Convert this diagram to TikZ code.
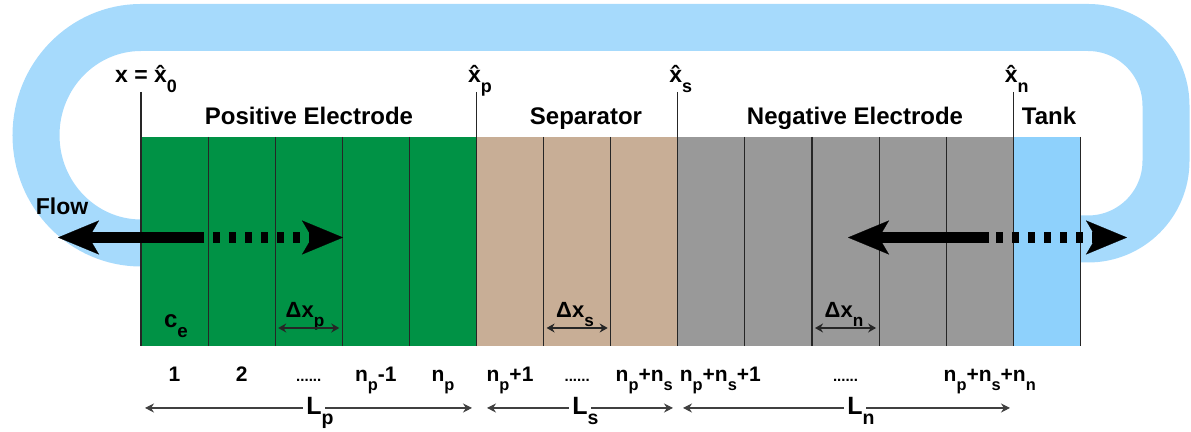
\documentclass[tikz,border=0pt]{standalone}
\usepackage{fontspec}
\setmainfont{Liberation Sans}
\usetikzlibrary{arrows.meta, positioning, calc}

\definecolor{posgreen}{RGB}{0,146,69}
\definecolor{septan}{RGB}{200,174,150}
\definecolor{neggray}{RGB}{153,153,153}
\definecolor{tankblue}{RGB}{142,209,252}
\definecolor{loopblue}{RGB}{166,218,252}

\newcommand{\xhat}{\^{x}}
\newcommand{\sub}[1]{\raisebox{-0.4em}{\scalebox{0.78}{#1}}}

\begin{document}
\begin{tikzpicture}[
      x=0.5pt, y=0.5pt,
      node distance=0pt,
      cell/.style={minimum width=33.55pt, minimum height=104.5pt, inner sep=0pt, outer sep=0pt},
      divider/.style={draw=black!85, line width=0.55pt},
      title/.style={font=\fontsize{12}{14}\selectfont\bfseries, anchor=base},
      bound/.style={font=\fontsize{11.5}{14}\selectfont\bfseries, anchor=base},
      idx/.style={font=\fontsize{10.5}{12}\selectfont\bfseries, anchor=base},
      dots/.style={font=\fontsize{7.5}{8}\selectfont\bfseries, anchor=base},
      delta/.style={font=\fontsize{11}{12}\selectfont\bfseries, anchor=base},
      len/.style={font=\fontsize{12.5}{14}\selectfont\bfseries, anchor=base, inner xsep=1.5pt},
      flow/.style={line width=5.5pt, -{Stealth[length=20.5pt, width=17pt, inset=5pt, line width=0.1pt]}},
      flowdash/.style={flow, dash pattern=on 3.5pt off 4.5pt},
      span/.style={draw=black!85, line width=0.75pt, {Stealth[length=4pt, width=4.5pt]}-{Stealth[length=4pt, width=4.5pt]}},
      dim/.style={draw=black!75, line width=0.55pt, -{Stealth[length=4.5pt, width=4.5pt]}}
  ]
    \useasboundingbox (0,0) rectangle (1191,432);

    % electrolyte loop
    \draw[loopblue, line width=23.5pt, rounded corners=39pt] (1070,193) -- (1166,193) -- (1166,404.5) -- (300,404.5)
      [sharp corners] -- (141,404.5) arc[start angle=90, end angle=270, x radius=105, y radius=107.75] -- (200,189);

    % cells
    \node[cell, fill=posgreen, anchor=south west] (p1) at (141,86) {};
    \node[cell, fill=posgreen, right=of p1] (p2) {};
    \node[cell, fill=posgreen, right=of p2] (p3) {};
    \node[cell, fill=posgreen, right=of p3] (p4) {};
    \node[cell, fill=posgreen, right=of p4] (p5) {};
    \node[cell, fill=septan, right=of p5] (s1) {};
    \node[cell, fill=septan, right=of s1] (s2) {};
    \node[cell, fill=septan, right=of s2] (s3) {};
    \node[cell, fill=neggray, right=of s3] (n1) {};
    \node[cell, fill=neggray, right=of n1] (n2) {};
    \node[cell, fill=neggray, right=of n2] (n3) {};
    \node[cell, fill=neggray, right=of n3] (n4) {};
    \node[cell, fill=neggray, right=of n4] (n5) {};
    \node[cell, fill=tankblue, right=of n5] (tank) {};

    \foreach \c in {p1,p2,p3,p4,s1,s2,n1,n2,n3,n4,tank}
      \draw[divider] (\c.north east) -- (\c.south east);

    \coordinate (hat0) at ($(p1.north west)+(0,45)$);
    \coordinate (hatp) at ($(p5.north east)+(0,45)$);
    \coordinate (hats) at ($(s3.north east)+(0,45)$);
    \coordinate (hatn) at ($(n5.north east)+(0,45)$);
    \draw[divider] (hat0) -- (p1.south west);
    \draw[divider] (hatp) -- (p5.south east);
    \draw[divider] (hats) -- (s3.south east);
    \draw[divider] (hatn) -- (n5.south east);

    \node[bound] (lbl0) at ($(hat0)+(0,9)$) {x = \xhat\rlap{\sub{0}}};
    \node[bound] (lblp) at ($(hatp)+(-2,9)$) {\xhat\rlap{\sub{p}}};
    \node[bound] (lbls) at ($(hats)+(-2,9)$) {\xhat\rlap{\sub{s}}};
    \node[bound] (lbln) at ($(hatn)+(-2,9)$) {\xhat\rlap{\sub{n}}};

    % region titles
    \node[title] (tpos) at (309,307) {Positive Electrode};
    \node[title] (tsep) at (586,307) {Separator};
    \node[title] (tneg) at (855,307) {Negative Electrode};
    \node[title] (ttank) at (1049,307) {Tank};
    \node[bound] (tflow) at (62,217) {Flow};

    % flow arrows
    \coordinate (leftTip) at (58,194.5);
    \coordinate (leftSolid) at (204,194.5);
    \coordinate (leftDash) at (213,194.5);
    \coordinate (leftHead) at (343,194.5);
    \coordinate (rightTip) at (848,194.5);
    \coordinate (rightSolid) at (989,194.5);
    \coordinate (rightDash) at (996,194.5);
    \coordinate (rightHead) at (1127,194.5);
    \draw[flow] (leftSolid) -- (leftTip);
    \draw[flowdash] (leftDash) -- (leftHead);
    \draw[flow] (rightSolid) -- (rightTip);
    \draw[flowdash] (rightDash) -- (rightHead);

    % cell labels
    \node[title] (ce) at (176,104) {c\sub{e}};
    \node[delta] (dxp) at (305,114) {Δx\sub{p}};
    \node[delta] (dxs) at (575,114) {Δx\sub{s}};
    \node[delta] (dxn) at (844,114) {Δx\sub{n}};
    \draw[span] ($(p3.south west)+(3,18)$) -- ($(p3.south east)+(-3,18)$);
    \draw[span] ($(s2.south west)+(3,18)$) -- ($(s2.south east)+(-3,18)$);
    \draw[span] ($(n3.south west)+(3,18)$) -- ($(n3.south east)+(-3,18)$);

    % indices
    \coordinate (row) at (0,50);
    \node[idx] (i1) at (p1 |- row) {1};
    \node[idx] (i2) at (p2 |- row) {2};
    \node[dots] (i3) at (p3 |- row) {......};
    \node[idx] (i4) at (p4 |- row) {n\sub{p}-1};
    \node[idx] (i5) at (p5 |- row) {n\sub{p}};
    \node[idx] (i6) at (s1 |- row) {n\sub{p}+1};
    \node[dots] (i7) at (s2 |- row) {......};
    \node[idx] (i8) at (s3 |- row) {n\sub{p}+n\sub{s}};
    \node[idx, xshift=4.5pt] (i9) at (n1 |- row) {n\sub{p}+n\sub{s}+1};
    \node[dots] (i10) at (n3 |- row) {......};
    \node[idx, xshift=5pt] (i11) at (n5 |- row) {n\sub{p}+n\sub{s}+n\sub{n}};

    % lengths
    \coordinate (Lpl) at (145,24);
    \coordinate (Lpr) at (472,24);
    \coordinate (Lsl) at (487,24);
    \coordinate (Lsr) at (673,24);
    \coordinate (Lnl) at (683,24);
    \coordinate (Lnr) at (1010,24);
    \node[len] (Lp) at (314,17) {L\rlap{\sub{p}}};
    \node[len] (Ls) at (580,17) {L\rlap{\sub{s}}};
    \node[len] (Ln) at (855,17) {L\rlap{\sub{n}}};
    \draw[dim] (Lp.west |- Lpl) -- (Lpl);
    \draw[dim] (Lp.east |- Lpr) -- (Lpr);
    \draw[dim] (Ls.west |- Lsl) -- (Lsl);
    \draw[dim] (Ls.east |- Lsr) -- (Lsr);
    \draw[dim] (Ln.west |- Lnl) -- (Lnl);
    \draw[dim] (Ln.east |- Lnr) -- (Lnr);
  \end{tikzpicture}
\end{document}
